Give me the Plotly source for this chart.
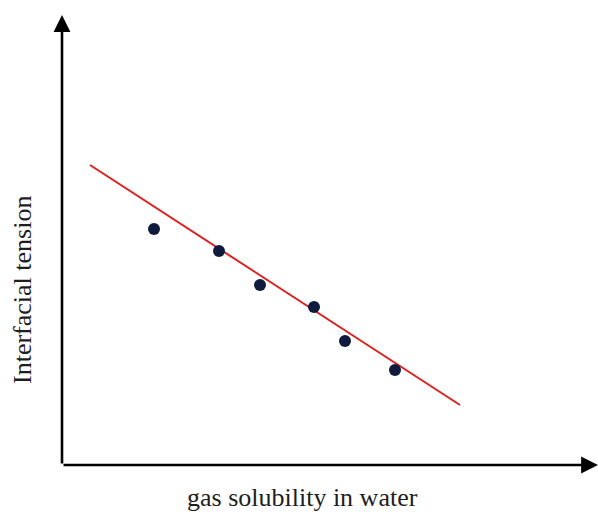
import plotly.graph_objects as go

# Data (arbitrary units)
solubility = [9.2, 15.7, 19.8, 25.2, 28.3, 33.3]
tension = [23.6, 21.4, 18.0, 15.8, 12.4, 9.5]
fit_x = [2.8, 39.8]
fit_y = [30.0, 6.0]

x_range = [0, 53.6]
y_range = [0, 45.0]

fig = go.Figure()
fig.add_trace(go.Scatter(x=fit_x, y=fit_y, mode="lines",
                         line=dict(color="#e0201e", width=2), hoverinfo="skip"))
fig.add_trace(go.Scatter(x=solubility, y=tension, mode="markers",
                         marker=dict(color="#0f1b3d", size=12)))

# axis arrows
fig.add_annotation(x=x_range[1], y=0, ax=0, ay=0, xref="x", yref="y", axref="x", ayref="y",
                   showarrow=True, arrowhead=2, arrowsize=1.3, arrowwidth=2.6, arrowcolor="black", text="")
fig.add_annotation(x=0, y=y_range[1], ax=0, ay=0, xref="x", yref="y", axref="x", ayref="y",
                   showarrow=True, arrowhead=2, arrowsize=1.3, arrowwidth=2.6, arrowcolor="black", text="")

fig.add_annotation(text="gas solubility in water", x=(302 - 62) / 536, y=-(497 - 465) / 450,
                   xref="paper", yref="paper", showarrow=False,
                   xanchor="center", yanchor="middle",
                   font=dict(family="Liberation Serif", size=26, color="#1e1e1e"))
fig.add_annotation(text="Interfacial tension", x=-(62 - 22) / 536, y=(465 - 290) / 450,
                   xref="paper", yref="paper", showarrow=False, textangle=-90,
                   xanchor="center", yanchor="middle",
                   font=dict(family="Liberation Serif", size=26, color="#1e1e1e"))

fig.update_layout(
    width=598, height=514,
    margin=dict(l=62, r=0, t=15, b=49),
    plot_bgcolor="white", paper_bgcolor="white",
    showlegend=False,
    xaxis=dict(range=x_range, visible=False, fixedrange=True),
    yaxis=dict(range=y_range, visible=False, fixedrange=True),
)

fig.write_html("out.html")
